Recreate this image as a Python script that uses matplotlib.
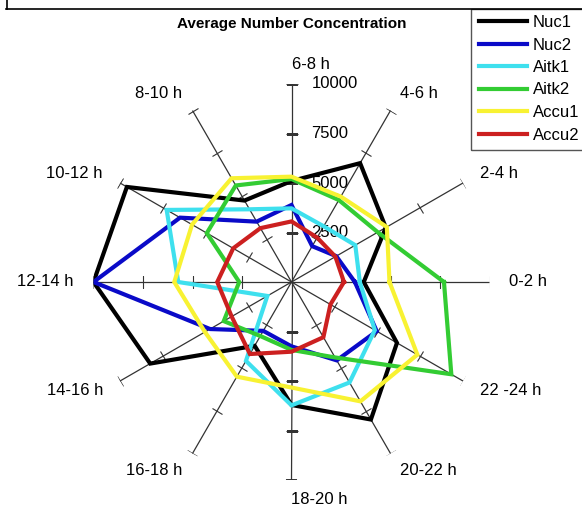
import numpy as np
import matplotlib
matplotlib.use("Agg")
import matplotlib.pyplot as plt
from matplotlib.lines import Line2D
from matplotlib.markers import MarkerStyle
from matplotlib.patches import Rectangle
from matplotlib.transforms import Affine2D

plt.rcParams['font.family'] = ['Liberation Sans', 'DejaVu Sans']

# time-of-day categories, counter-clockwise from the right
hours = ["0-2 h", "2-4 h", "4-6 h", "6-8 h", "8-10 h", "10-12 h",
         "12-14 h", "14-16 h", "16-18 h", "18-20 h", "20-22 h", "22 -24 h"]

nuc1 = [3650, 5500, 6930, 5100, 4750, 9600, 10000, 8240, 3720, 6210, 8020, 6150]
nuc2 = [3200, 2610, 2090, 3890, 3520, 6500, 10000, 4750, 2850, 3250, 4570, 4970]
aitk1 = [3450, 3720, 3250, 3720, 4240, 7280, 5720, 1410, 4600, 6230, 5860, 4860]
aitk2 = [7700, 5030, 4780, 5200, 5630, 4940, 2640, 3950, 3150, 3430, 4400, 9320]
accu1 = [4950, 5560, 4980, 5320, 6050, 5800, 5920, 5050, 5520, 5330, 6960, 7340]
accu2 = [2650, 2560, 2590, 3060, 3140, 3400, 3750, 3490, 4200, 3520, 3220, 2270]

series_names = ["Nuc1", "Nuc2", "Aitk1", "Aitk2", "Accu1", "Accu2"]
series_vals = [nuc1, nuc2, aitk1, aitk2, accu1, accu2]
colours = ["#000000", "#0a0ac8", "#3ee0ee", "#33cc33", "#f8f232", "#cc2020"]

r_ticks = [2500, 5000, 7500, 10000]
r_max = 10000

W, H = 582, 509
fig = plt.figure(figsize=(W / 100, H / 100), dpi=100)

# polar area: centre (291.5, 282) px, radius 198 px
cx, cy, rad = 291.5, 282, 198
ax = fig.add_axes([(cx - rad) / W, (H - cy - rad) / H, 2 * rad / W, 2 * rad / H],
                  projection='polar')
ax.set_theta_zero_location('E')
ax.set_ylim(0, r_max)
ax.grid(False)
ax.set_xticks([])
ax.set_yticks([])
ax.spines['polar'].set_visible(False)
ax.patch.set_alpha(0)

theta = np.deg2rad(np.arange(len(hours)) * 30)

# spokes with cross ticks
for i, t in enumerate(theta):
    deg = i * 30
    ax.plot([t, t], [0, r_max], color='#333333', lw=0.9, zorder=1)
    if deg % 180 == 90:
        tick = '_'
    else:
        tick = MarkerStyle('|', transform=Affine2D().rotate_deg(deg))
    ax.plot([t] * len(r_ticks), r_ticks, ls='none', color='#333333',
            marker=tick, markersize=9, markeredgewidth=0.8, zorder=1)

for v in r_ticks:
    ax.annotate(str(v), xy=(np.pi / 2, v), xytext=(20, 0), textcoords='offset pixels',
                ha='left', va='center', fontsize=12, zorder=1)

for t, lab in zip(theta, hours):
    deg = np.rad2deg(t)
    ha = 'left' if (deg <= 90 or deg >= 270) else 'right'
    ax.text(t, 11000, lab, ha=ha, va='center', fontsize=12)

handles = []
for name, vals, c in zip(series_names, series_vals, colours):
    v = list(vals) + [vals[0]]
    th = list(theta) + [theta[0]]
    ln, = ax.plot(th, v, color=c, lw=3, label=name, zorder=3, solid_joinstyle='miter')
    handles.append(ln)

fig.text(cx / W, 1 - 24 / H, "Average Number Concentration", ha='center', va='center',
         fontsize=11, fontweight='bold')

# outer frame fragments and legend box
fig.add_artist(Line2D([6 / W, 1], [1 - 9 / H, 1 - 9 / H], color='black', lw=1.2))
fig.add_artist(Line2D([7 / W, 7 / W], [1 - 9 / H, 1], color='black', lw=1.2))
fig.add_artist(Rectangle((471 / W, 1 - 150 / H), 140 / W, 141 / H, fill=False,
                         edgecolor='#555555', lw=1.0, transform=fig.transFigure))

fig.legend(handles, series_names, loc='upper left', bbox_to_anchor=(479 / W, 1 - 15 / H),
           frameon=False, fontsize=12, handlelength=2.9, handletextpad=0.34,
           labelspacing=0.45, borderpad=0, borderaxespad=0)

fig.savefig("out.png", dpi=100)
